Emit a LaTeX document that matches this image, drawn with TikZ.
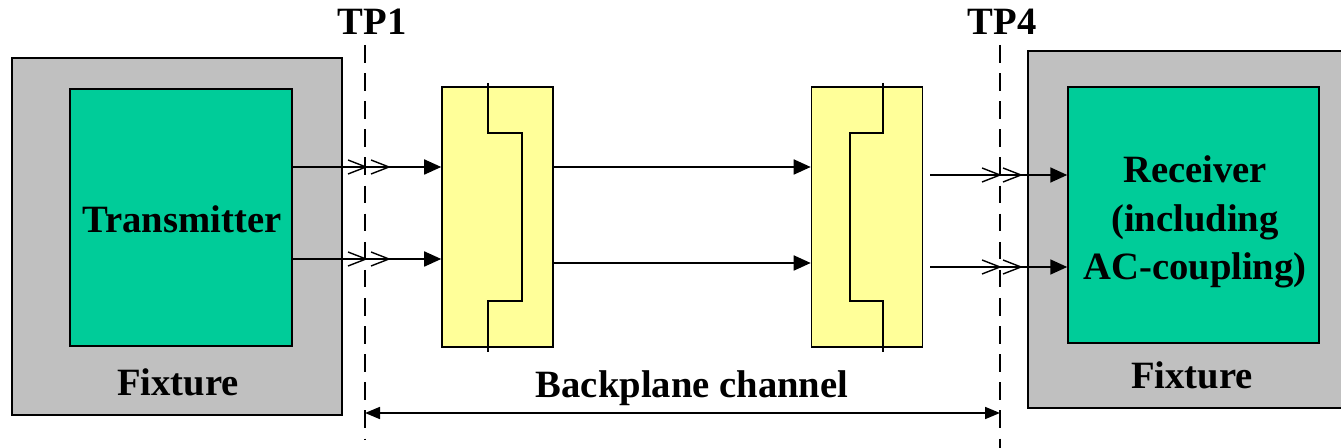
\documentclass[tikz,border=0pt]{standalone}
\usepackage{fontspec}
\setmainfont{Liberation Serif}
\usetikzlibrary{arrows.meta}
\usetikzlibrary{positioning}

\definecolor{fixgray}{RGB}{192,192,192}
\definecolor{chipgreen}{RGB}{0,204,153}
\definecolor{conyellow}{RGB}{255,255,153}

\begin{document}
\begin{tikzpicture}
	[
	x=0.02cm, y=-0.02cm,
	font=\bfseries\fontsize{22}{26.6}\selectfont,
	line width=0.9pt
	]
	
	% Box styles: fixture, chip and connector
	\tikzstyle{fixture}=[draw,fill=fixgray,inner sep=0];
	\tikzstyle{chip}=[draw,fill=chipgreen,inner sep=0,align=center];
	\tikzstyle{conn}=[draw,fill=conyellow,inner sep=0,minimum width=2.22cm,minimum height=5.2cm];
	
	% Line styles
	\tikzstyle{sig}=[-{Triangle[length=0.34cm,width=0.3cm]},line width=1pt];
	\tikzstyle{probe}=[dash pattern=on 10pt off 6pt,line width=0.8pt];
	\tikzstyle{chevron}=[line width=0.8pt];
	\tikzstyle{span}=[{Triangle[length=0.3cm,width=0.24cm]}-{Triangle[length=0.3cm,width=0.24cm]},line width=1pt];
	
	\useasboundingbox (0,0) rectangle (1341,448);
	\clip (0,0) rectangle (1341,448);
	
	% Test fixtures with the chips
	\node[fixture,minimum width=6.6cm,minimum height=7.14cm] (fixL) at (177,236.5) {};
	\node[chip,minimum width=4.44cm,minimum height=5.14cm] (tx) at (181,217.5) {};
	\node (txtext) at (182,219) {Transmitter};
	\node (fixLtext) at (178,382) {Fixture};
	
	\node[fixture,minimum width=6.44cm,minimum height=7.14cm] (fixR) at (1189,229.5) {};
	\node[chip,minimum width=5.02cm,minimum height=5.12cm] (rx) at (1193.5,215) {};
	\node[align=center,font=\bfseries\fontsize{22}{27.4}\selectfont] (rxtext) at (1195,222)
		{Receiver\\(including\\AC-coupling)};
	\node (fixRtext) at (1192,375) {Fixture};
	
	% Backplane connectors
	\node[conn] (conA) at (497.5,217) {};
	\node[conn] (conB) at (867,217) {};
	\draw (488,83) |- (522,133) |- (488,301) -- (488,352);
	\draw (883,83) |- (850,133) |- (883,301) -- (883,352);
	
	% Test points
	\node (tp1) at (372,22) {TP1};
	\node (tp4) at (1002,22) {TP4};
	\coordinate (tp1top) at (365,45);
	\coordinate (tp1bot) at (365,440);
	\coordinate (tp4top) at (1000,45);
	\coordinate (tp4bot) at (1000,452);
	\draw[probe] (tp1top) -- (tp1bot);
	\draw[probe] (tp4top) -- (tp4bot);
	
	% Signal lanes
	\draw[sig] (tx.east |- 0,167) -- (conA.west |- 0,167);
	\draw[sig] (tx.east |- 0,259) -- (conA.west |- 0,259);
	\draw[sig] (conA.east |- 0,167) -- (conB.west |- 0,167);
	\draw[sig] (conA.east |- 0,263) -- (conB.west |- 0,263);
	\draw[sig] (930,175) -- (rx.west |- 0,175);
	\draw[sig] (930,267) -- (rx.west |- 0,267);
	
	% Cable connectors at the test points
	\foreach \cx/\cy in {366/167,389/167,366/259,389/259,1000/175,1021/175,1000/267,1021/267}
		\draw[chevron] (\cx-18,\cy-7) -- (\cx,\cy) -- (\cx-18,\cy+7);
	
	% Channel span
	\draw[span] (tp1bot |- 0,413) -- (tp4bot |- 0,413);
	\node (chan) at (692,388) {Backplane channel};
\end{tikzpicture}
\end{document}
